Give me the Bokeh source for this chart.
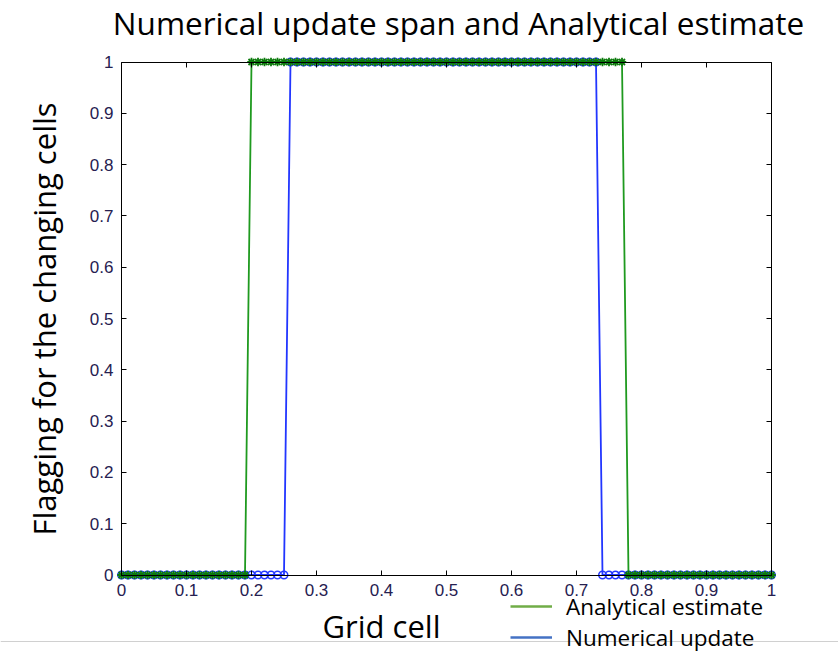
import math
from bokeh.plotting import figure
from bokeh.models import Range1d, LinearAxis, FixedTicker, Legend, LegendItem, BoxAnnotation, Label
from bokeh.embed import file_html
from bokeh.resources import INLINE

# ---------------- data ----------------
grid_cell = [
    0.00, 0.01, 0.02, 0.03, 0.04, 0.05, 0.06, 0.07, 0.08, 0.09,
    0.10, 0.11, 0.12, 0.13, 0.14, 0.15, 0.16, 0.17, 0.18, 0.19,
    0.20, 0.21, 0.22, 0.23, 0.24, 0.25, 0.26, 0.27, 0.28, 0.29,
    0.30, 0.31, 0.32, 0.33, 0.34, 0.35, 0.36, 0.37, 0.38, 0.39,
    0.40, 0.41, 0.42, 0.43, 0.44, 0.45, 0.46, 0.47, 0.48, 0.49,
    0.50, 0.51, 0.52, 0.53, 0.54, 0.55, 0.56, 0.57, 0.58, 0.59,
    0.60, 0.61, 0.62, 0.63, 0.64, 0.65, 0.66, 0.67, 0.68, 0.69,
    0.70, 0.71, 0.72, 0.73, 0.74, 0.75, 0.76, 0.77, 0.78, 0.79,
    0.80, 0.81, 0.82, 0.83, 0.84, 0.85, 0.86, 0.87, 0.88, 0.89,
    0.90, 0.91, 0.92, 0.93, 0.94, 0.95, 0.96, 0.97, 0.98, 0.99,
    1.00,
]

analytical_flag = [
    0, 0, 0, 0, 0, 0, 0, 0, 0, 0,
    0, 0, 0, 0, 0, 0, 0, 0, 0, 0,
    1, 1, 1, 1, 1, 1, 1, 1, 1, 1,
    1, 1, 1, 1, 1, 1, 1, 1, 1, 1,
    1, 1, 1, 1, 1, 1, 1, 1, 1, 1,
    1, 1, 1, 1, 1, 1, 1, 1, 1, 1,
    1, 1, 1, 1, 1, 1, 1, 1, 1, 1,
    1, 1, 1, 1, 1, 1, 1, 1, 0, 0,
    0, 0, 0, 0, 0, 0, 0, 0, 0, 0,
    0, 0, 0, 0, 0, 0, 0, 0, 0, 0,
    0,
]

numerical_flag = [
    0, 0, 0, 0, 0, 0, 0, 0, 0, 0,
    0, 0, 0, 0, 0, 0, 0, 0, 0, 0,
    0, 0, 0, 0, 0, 0, 1, 1, 1, 1,
    1, 1, 1, 1, 1, 1, 1, 1, 1, 1,
    1, 1, 1, 1, 1, 1, 1, 1, 1, 1,
    1, 1, 1, 1, 1, 1, 1, 1, 1, 1,
    1, 1, 1, 1, 1, 1, 1, 1, 1, 1,
    1, 1, 1, 1, 0, 0, 0, 0, 0, 0,
    0, 0, 0, 0, 0, 0, 0, 0, 0, 0,
    0, 0, 0, 0, 0, 0, 0, 0, 0, 0,
    0,
]

x_ticks = [0, 0.1, 0.2, 0.3, 0.4, 0.5, 0.6, 0.7, 0.8, 0.9, 1]
x_tick_labels = ["0", "0.1", "0.2", "0.3", "0.4", "0.5", "0.6", "0.7", "0.8", "0.9", "1"]
y_ticks = [0, 0.1, 0.2, 0.3, 0.4, 0.5, 0.6, 0.7, 0.8, 0.9, 1]
y_tick_labels = ["0", "0.1", "0.2", "0.3", "0.4", "0.5", "0.6", "0.7", "0.8", "0.9", "1"]

title_text = "Numerical update span and Analytical estimate"
x_label = "Grid cell"
y_label = "Flagging for the changing cells"
series_names = ["Analytical estimate", "Numerical update"]

# ---------------- layout (pixels) ----------------
W, H = 838, 653
BOX_L, BOX_R = 121.0, 771.0      # pixel x of data 0 and 1
BOX_T, BOX_B = 61.5, 574.5       # pixel y (from top) of data 1 and 0
sx = BOX_R - BOX_L
sy = BOX_B - BOX_T
x_range = Range1d(-BOX_L / sx, 1 + (W - BOX_R) / sx)
y_range = Range1d(-(H - BOX_B) / sy, 1 + BOX_T / sy)

TEXT_FONT = "Open Sans"
TICK_FONT = "Liberation Sans"
TICK_COLOR = "#262050"

p = figure(
    width=W, height=H, title=None,
    output_backend="svg", toolbar_location=None,
    x_range=x_range, y_range=y_range,
    x_axis_location=None, y_axis_location=None,
    min_border=0, min_border_left=0, min_border_right=0,
    min_border_top=0, min_border_bottom=0,
)
p.outline_line_color = None
p.xgrid.visible = False
p.ygrid.visible = False
p.background_fill_color = "white"
p.border_fill_color = "white"


def make_axis(ticks, labels, loc, show_labels, axis_label=None):
    ax = LinearAxis(
        ticker=FixedTicker(ticks=ticks),
        fixed_location=loc,
        bounds=(ticks[0], ticks[-1]),
        major_label_overrides={t: s for t, s in zip(ticks, labels)},
        major_tick_in=5, major_tick_out=0,
        minor_tick_in=0, minor_tick_out=0,
        axis_line_color="black", axis_line_width=1,
        major_tick_line_color="black",
        major_label_text_font=TICK_FONT,
        major_label_text_font_size="17px" if show_labels else "0px",
        major_label_text_color=TICK_COLOR if show_labels else None,
        major_label_standoff=7,
    )
    if axis_label:
        ax.axis_label = axis_label
        ax.axis_label_text_font = TEXT_FONT
        ax.axis_label_text_font_size = "31px"
        ax.axis_label_text_font_style = "normal"
        ax.axis_label_text_color = "black"
    return ax


xb = make_axis(x_ticks, x_tick_labels, 0, True)
xb.major_label_standoff = 9
yl = make_axis(y_ticks, y_tick_labels, 0, True, y_label)
yl.major_label_standoff = 8
yl.axis_label_standoff = 22
xa = make_axis(x_ticks, x_tick_labels, 1, False)
yr = make_axis(y_ticks, y_tick_labels, 1, False)
p.add_layout(xb, "below")
p.add_layout(yl, "left")
p.add_layout(xa, "above")
p.add_layout(yr, "right")

# ---------------- series ----------------
BLUE = "#2236ff"
GREEN_LINE = "#1f9a1f"
GREEN_MARK = "#0b7a0b"

p.line(grid_cell, numerical_flag, line_color=BLUE, line_width=1.8)
p.scatter(grid_cell, numerical_flag, marker="circle", size=7.5,
          fill_color=None, line_color=BLUE, line_width=1.5)
p.line(grid_cell, analytical_flag, line_color=GREEN_LINE, line_width=1.8)
p.scatter(grid_cell, analytical_flag, marker="asterisk", size=8.5,
          line_color=GREEN_MARK, line_width=1.8)

# ---------------- texts ----------------
p.add_layout(Label(
    x=458, y=H - 22, x_units="screen", y_units="screen",
    text=title_text, text_align="center", text_baseline="middle",
    text_font=TEXT_FONT, text_font_size="31.5px", text_color="black",
))

# x axis label (offset to the left, as in the reference slide)
p.add_layout(Label(
    x=381, y=H - 625, x_units="screen", y_units="screen",
    text=x_label, text_align="center", text_baseline="middle",
    text_font=TEXT_FONT, text_font_size="31px", text_color="black",
))

# slide separator line
p.add_layout(BoxAnnotation(
    left=0, right=W, top=H - 640.5, bottom=H - 641.5,
    left_units="screen", right_units="screen",
    top_units="screen", bottom_units="screen",
    fill_color="#d0d0d0", fill_alpha=1.0, line_color=None,
))

# legend (overlaid, office colours) -- proxies carry no visible data
leg_a = p.line(x=[math.nan], y=[math.nan], line_color="#70ad47", line_width=2.5)
leg_n = p.line(x=[math.nan], y=[math.nan], line_color="#4472c4", line_width=2.5)


def make_legend(label, renderer, y_center):
    item_h = 31
    return Legend(
        items=[LegendItem(label=label, renderers=[renderer])],
        location=(510, H - y_center - item_h / 2), orientation="vertical",
        border_line_color=None, background_fill_alpha=0,
        padding=0, margin=0, spacing=0,
        glyph_width=42, glyph_height=20, label_height=20,
        label_standoff=14,
        label_text_font=TEXT_FONT, label_text_font_size="22.5px",
        label_text_color="black",
    )


p.add_layout(make_legend(series_names[0], leg_a, 606))
p.add_layout(make_legend(series_names[1], leg_n, 637))

open("out.html", "w").write(file_html(p, INLINE))
